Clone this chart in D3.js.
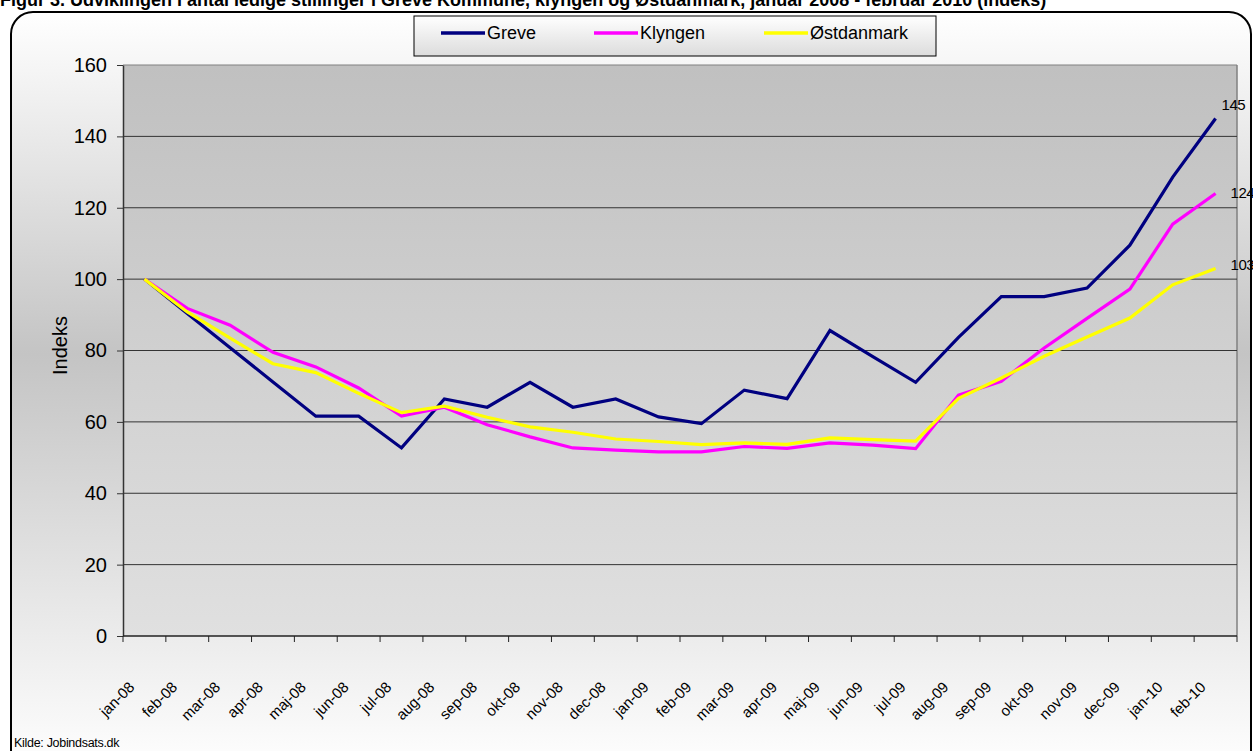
<!DOCTYPE html>
<html lang="da">
<head>
<meta charset="utf-8">
<title>Indeks Greve, Klyngen, Østdanmark</title>
<script src="https://cdn.jsdelivr.net/npm/d3@7"></script>
<style>
  html, body { margin: 0; padding: 0; background: #fff; }
  svg { display: block; font-family: "Liberation Sans", Arial, sans-serif; }
</style>
</head>
<body>
<div id="chart"></div>
<script>
// data (index, jan-08 = 100)
const months = ["jan-08","feb-08","mar-08","apr-08","maj-08","jun-08","jul-08","aug-08","sep-08","okt-08","nov-08","dec-08",
                "jan-09","feb-09","mar-09","apr-09","maj-09","jun-09","jul-09","aug-09","sep-09","okt-09","nov-09","dec-09",
                "jan-10","feb-10"];
const greve   = [100, 90.4, 80.8, 71.2, 61.6, 61.6, 52.7, 66.4, 64.1, 71.1, 64.1, 66.4, 61.4, 59.5, 68.9, 66.5, 85.6, 78.3, 71.1, 83.7, 95.1, 95.1, 97.5, 109.5, 128.6, 145];
const klyngen = [100, 91.8, 87.1, 79.5, 75.4, 69.5, 61.6, 64.1, 59.2, 55.8, 52.7, 52.1, 51.6, 51.6, 53.1, 52.6, 54.1, 53.5, 52.5, 67.5, 71.4, 80.7, 89.0, 97.2, 115.4, 124];
const ostdk   = [100, 90.8, 83.5, 76.3, 73.8, 68.0, 62.6, 64.4, 61.3, 58.6, 57.1, 55.2, 54.5, 53.6, 54.1, 53.7, 55.5, 55.0, 54.6, 66.6, 72.3, 78.4, 83.8, 89.1, 98.4, 103];
const seriesNames = ["Greve", "Klyngen", "Østdanmark"];
const endLabels = ["145", "124", "103"];
const yTicks = [0, 20, 40, 60, 80, 100, 120, 140, 160];

const W = 1253, H = 751;
const colors = ["#000080", "#ff00ff", "#ffff00"];

const svg = d3.select("#chart").append("svg")
  .attr("width", W).attr("height", H);

const defs = svg.append("defs");
const bg = defs.append("linearGradient").attr("id", "bgGrad")
  .attr("x1", 0).attr("y1", 0).attr("x2", 0).attr("y2", 1);
bg.append("stop").attr("offset", "0%").attr("stop-color", "#ffffff");
bg.append("stop").attr("offset", "45%").attr("stop-color", "#c4c4c4");
bg.append("stop").attr("offset", "100%").attr("stop-color", "#ffffff");

const pg = defs.append("linearGradient").attr("id", "plotGrad")
  .attr("x1", 0).attr("y1", 0).attr("x2", 0).attr("y2", 1);
pg.append("stop").attr("offset", "0%").attr("stop-color", "#c0c0c0");
pg.append("stop").attr("offset", "100%").attr("stop-color", "#e0e0e0");

const lg = defs.append("linearGradient").attr("id", "legGrad")
  .attr("x1", 0).attr("y1", 0).attr("x2", 0).attr("y2", 1);
lg.append("stop").attr("offset", "0%").attr("stop-color", "#ffffff");
lg.append("stop").attr("offset", "100%").attr("stop-color", "#dcdcdc");

// truncated heading above the chart frame
svg.append("text")
  .attr("x", 0).attr("y", 6)
  .style("font-size", "18px").style("font-weight", "bold")
  .text("Figur 3. Udviklingen i antal ledige stillinger i Greve Kommune, klyngen og Østdanmark, januar 2008 - februar 2010 (indeks)");

// chart frame
svg.append("rect")
  .attr("x", 11).attr("y", 12).attr("width", W - 13).attr("height", 760)
  .attr("rx", 22)
  .attr("fill", "url(#bgGrad)")
  .attr("stroke", "#000").attr("stroke-width", 2);

const pLeft = 123, pRight = 1237, pTop = 65, pBottom = 636;

const x = d3.scaleBand().domain(months).range([pLeft, pRight]);
const y = d3.scaleLinear().domain([0, 160]).range([pBottom, pTop]);
const cx = m => x(m) + x.bandwidth() / 2;

// plot area
svg.append("rect")
  .attr("x", pLeft).attr("y", pTop).attr("width", pRight - pLeft).attr("height", pBottom - pTop)
  .attr("fill", "url(#plotGrad)");

svg.append("line")
  .attr("x1", pRight).attr("x2", pRight).attr("y1", pTop).attr("y2", pBottom)
  .attr("stroke", "#808080").attr("stroke-width", 1.5);

// gridlines
svg.append("g").selectAll("line")
  .data(yTicks.filter(d => d > 0))
  .join("line")
  .attr("x1", pLeft).attr("x2", pRight)
  .attr("y1", d => y(d)).attr("y2", d => y(d))
  .attr("stroke", d => d === 160 ? "#808080" : "#333")
  .attr("stroke-width", 1);

// y axis
const yAxis = svg.append("g")
  .attr("transform", `translate(${pLeft},0)`)
  .call(d3.axisLeft(y).tickValues(yTicks).tickSize(6).tickPadding(10).tickSizeOuter(0));
yAxis.select(".domain").attr("stroke", "#333").attr("stroke-width", 1.5);
yAxis.selectAll(".tick line").attr("stroke", "#333");
yAxis.selectAll("text")
  .style("font-family", "'Liberation Sans', Arial, sans-serif")
  .style("font-size", "20px").attr("fill", "#000");

svg.append("text")
  .attr("transform", `translate(67,${(pTop + pBottom) / 2 - 5}) rotate(-90)`)
  .attr("text-anchor", "middle")
  .style("font-size", "20px")
  .text("Indeks");

// x axis
svg.append("line")
  .attr("x1", pLeft).attr("x2", pRight).attr("y1", pBottom).attr("y2", pBottom)
  .attr("stroke", "#222").attr("stroke-width", 1.5);

svg.append("g").selectAll("line")
  .data(months.map(m => x(m)).concat([pRight]))
  .join("line")
  .attr("x1", d => d).attr("x2", d => d)
  .attr("y1", pBottom).attr("y2", pBottom + 6)
  .attr("stroke", "#222");

const xAxis = svg.append("g")
  .attr("transform", `translate(0,${pBottom})`)
  .call(d3.axisBottom(x).tickSize(0).tickPadding(0));
xAxis.select(".domain").remove();
xAxis.selectAll("text")
  .style("font-family", "'Liberation Sans', Arial, sans-serif")
  .style("font-size", "15px")
  .attr("fill", "#000")
  .attr("text-anchor", "end")
  .attr("dy", null)
  .attr("y", 0)
  .attr("transform", "translate(-9,52) rotate(-45)");

// lines
const allSeries = [greve, klyngen, ostdk];
const line = d3.line().x((d, i) => cx(months[i])).y(d => y(d));

svg.append("g").selectAll("path")
  .data(allSeries)
  .join("path")
  .attr("d", d => line(d))
  .attr("fill", "none")
  .attr("stroke", (d, i) => colors[i])
  .attr("stroke-width", 3.2)
  .attr("stroke-linejoin", "miter");

// end labels (partly clipped by the right edge, as in the original)
const labelOff = [[6, -9], [15, 5], [15, 2]];
svg.append("g").selectAll("text")
  .data(allSeries)
  .join("text")
  .attr("x", (d, i) => cx(months[months.length - 1]) + labelOff[i][0])
  .attr("y", (d, i) => y(d[d.length - 1]) + labelOff[i][1])
  .style("font-size", "15px")
  .attr("letter-spacing", "-0.5")
  .text((d, i) => endLabels[i]);

// legend
const leg = svg.append("g");
leg.append("rect")
  .attr("x", 414).attr("y", 16).attr("width", 522).attr("height", 40)
  .attr("fill", "url(#legGrad)")
  .attr("stroke", "#000").attr("stroke-width", 1);

const legX = [441, 594, 764];
const legItem = leg.selectAll("g.item")
  .data(seriesNames)
  .join("g").attr("class", "item")
  .attr("transform", (d, i) => `translate(${legX[i]},33)`);
legItem.append("line")
  .attr("x1", 0).attr("x2", 44).attr("y1", 0).attr("y2", 0)
  .attr("stroke", (d, i) => colors[i]).attr("stroke-width", 3.5);
legItem.append("text")
  .attr("x", 46).attr("y", 6)
  .style("font-size", "18px")
  .text(d => d);

// source
svg.append("text")
  .attr("x", 14).attr("y", 747)
  .style("font-size", "12.5px")
  .attr("letter-spacing", "-0.3")
  .text("Kilde: Jobindsats.dk");
</script>
</body>
</html>
